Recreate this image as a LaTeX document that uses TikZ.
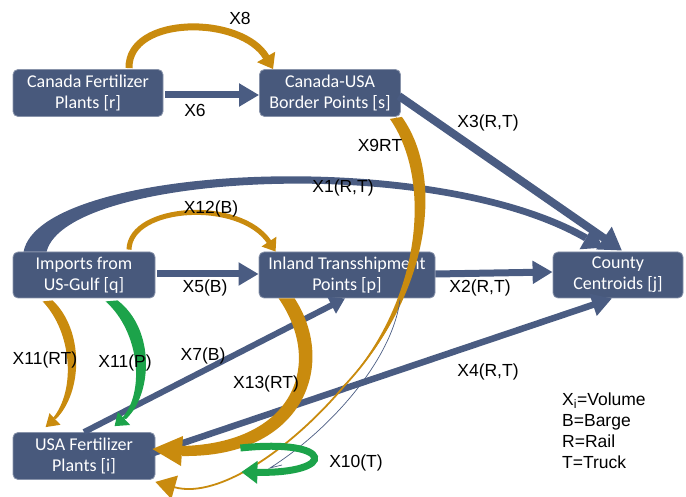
\documentclass[tikz,border=0pt]{standalone}
\usepackage{fontspec}
\setmainfont{Liberation Sans}
\newfontfamily\boxfont{Carlito}
\usetikzlibrary{arrows.meta,calc}
\definecolor{boxc}{RGB}{72,89,124}
\definecolor{arrc}{RGB}{74,92,130}
\definecolor{goldc}{RGB}{201,139,14}
\definecolor{goldd}{RGB}{140,95,10}
\definecolor{greenc}{RGB}{28,163,74}
\tikzset{
  stage/.style={rectangle, rounded corners=5pt, fill=boxc, draw=boxc!65!white, line width=0.8pt, text=white,
    font=\boxfont\fontsize{18}{21}\selectfont, align=center, inner sep=0pt},
  lbl/.style={font=\fontsize{17.5}{20}\selectfont, inner sep=0pt},
  bluearr/.style={draw=arrc, line width=7pt, -{Triangle[length=20pt,width=22pt]}},
  goldarr/.style={draw=goldc, line width=7pt, -{Triangle[length=14pt,width=20pt]}},
  greenarr/.style={draw=greenc, line width=7pt, -{Triangle[length=16pt,width=22pt]}},
}
\begin{document}
\begin{tikzpicture}[x=1pt,y=-1pt]
\useasboundingbox (0,0) rectangle (686,497);

% nodes
\node[stage, minimum width=150pt, minimum height=47pt] (r) at (88,93) {Canada Fertilizer\\Plants [r]};
\node[stage, minimum width=141pt, minimum height=47pt] (s) at (330,93) {Canada-USA\\Border Points [s]};
\node[stage, minimum width=142pt, minimum height=46pt] (q) at (84,275) {Imports from\\US-Gulf [q]};
\node[stage, minimum width=176pt, minimum height=46pt] (p) at (347,275) {Inland Transshipment\\Points [p]};
\node[stage, minimum width=130pt, minimum height=46pt] (j) at (618,275) {County\\Centroids [j]};
\node[stage, minimum width=142pt, minimum height=47pt] (i) at (84,456) {USA Fertilizer\\Plants [i]};

% straight blue connectors
\draw[bluearr] ($(r.east)+(2,2)$) -- ($(s.west)+(0,2)$);
\draw[bluearr] ($(q.east)+(2,-1)$) -- ($(p.west)+(0,-1)$);
\draw[bluearr] ($(p.east)+(0,-1)$) -- ($(j.west)+(0,-3)$);
\draw[bluearr, line width=8pt, -{Triangle[length=22pt,width=26pt]}] ($(s.east)+(-2,3)$) -- ($(j.north)+(4,-1)$);
\draw[bluearr, line width=6pt, -{Triangle[length=15pt,width=18pt]}] (i.north) -- ($(p.south)+(-2,0)$);
\draw[bluearr, line width=6.5pt] ($(i.east)+(-5,-2)$) -- ($(j.south)+(-6,0)$);

% X1 tapered curve
\fill[arrc] ($(q.north west)+(11,0)$) .. controls (40,166) and (428,144) .. (588,235)
  -- (584,241) .. controls (432,153) and (66,174) .. ($(q.north west)+(34,0)$) -- cycle;
\fill[arrc] (579.5,249.3) -- ($(j.north)+(-15,-4)$) -- (592.5,226.7) -- cycle;

% X8, X12 gold arcs
\draw[goldarr] ($(r.north)+(41,-1)$) .. controls (128,15) and (242,15) .. ($(s.north west)+(14,0)$);
\draw[goldarr, line width=5pt, -{Triangle[length=12pt,width=17pt]}] ($(q.north)+(45,-2)$) .. controls (130,205) and (240,198) .. ($(p.north west)+(17,0)$);

% X9 tapered gold
\fill[goldc] ($(s.south east)+(1,0)$) .. controls (447,180) and (427,300) .. (345,385)
  .. controls (421,300) and (433,181) .. ($(s.south east)+(-11,2)$) -- cycle;
\draw[goldc, line width=1.8pt, -{Triangle[length=20pt,width=24pt]}] ($(s.south east)+(-5,1)$) .. controls (440,180) and (425,300) .. (345,385)
  .. controls (295,445) and (220,500) .. ($(i.south east)+(0,2)$);
\draw[arrc, line width=0.7pt] (400,300) .. controls (392,360) and (330,430) .. (270,468) -- (282,465);

% X13 thick gold
\fill[goldc] ($(p.south west)+(36,0)$) .. controls (338,365) and (303,458) .. (182,456)
  -- (182,446) .. controls (294,443) and (324,364) .. ($(p.south west)+(20,0)$) -- cycle;
\fill[goldc] (183,436) -- ($(i.east)+(-3,-7)$) -- (181,466) -- cycle;

% X11(RT) gold
\fill[goldc] ($(q.south west)+(40,2)$) .. controls (84,330) and (83,392) .. (56,419)
  -- (53,418) .. controls (76,390) and (72,332) .. ($(q.south west)+(30,3)$) -- cycle;
\fill[goldc] (60.5,424.8) -- ($(i.north west)+(33,-5)$) -- (49.5,413.2) -- cycle;

% X11(P) green
\fill[greenc] ($(q.south west)+(105,2)$) .. controls (156,330) and (152,395) .. (126,419)
  -- (122,418) .. controls (145,393) and (140,332) .. ($(q.south west)+(93,3)$) -- cycle;
\fill[greenc] (130.2,425) -- ($(i.north west)+(102,-6)$) -- (117.8,411.9) -- cycle;

% X10 green loop
\draw[greenarr] ($(i.east)+(85,-8)$) .. controls (335,438) and (338,474) .. ($(i.east)+(86,16)$);

% labels
\node[lbl] (l8) at (240,18) {X8};
\node[lbl] (l6) at (195,110) {X6};
\node[lbl] (l9) at (380,145) {X9RT};
\node[lbl] (l3) at (488,123) {X3(R,T)};
\node[lbl] (l1) at (343,188) {X1(R,T)};
\node[lbl] (l12) at (211,209) {X12(B)};
\node[lbl] (l5) at (205,288) {X5(B)};
\node[lbl] (l2) at (480,288) {X2(R,T)};
\node[lbl] (l11a) at (45,360) {X11(RT)};
\node[lbl] (l11b) at (125,363) {X11(P)};
\node[lbl] (l7) at (203,356) {X7(B)};
\node[lbl] (l13) at (266,384) {X13(RT)};
\node[lbl] (l4) at (488,372) {X4(R,T)};
\node[lbl] (l10) at (356,463) {X10(T)};
\node[lbl, anchor=north west, align=left, font=\fontsize{17.5}{21}\selectfont] (leg) at (562,393)
  {X\textsubscript{i}=Volume\\B=Barge\\R=Rail\\T=Truck};
\end{tikzpicture}
\end{document}
